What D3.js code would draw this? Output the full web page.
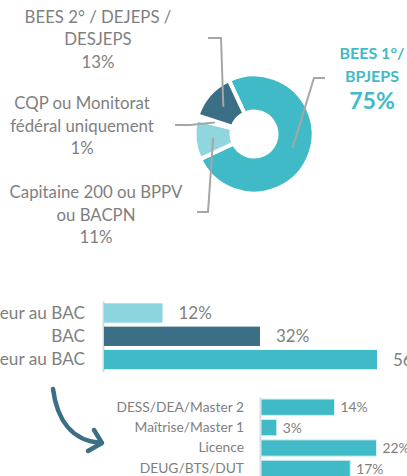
<!DOCTYPE html>
<html>
<head>
<meta charset="utf-8">
<script src="https://cdn.jsdelivr.net/npm/d3@7"></script>
<style>
    body { margin: 0; background: #fff; overflow: hidden; }
    svg { display: block; font-family: Lato, "Open Sans", sans-serif; }
    .lbl { fill: #7f7f7f; }
    .leader { fill: none; stroke: #a6a6a6; stroke-width: 2; }
</style>
</head>
<body>
<svg id="chart"></svg>
<script>
// Diplômes d'encadrement (donut)
const pieLines = [
    ['BEES 1°/', 'BPJEPS'],
    ['Capitaine 200 ou BPPV', 'ou BACPN'],
    ['CQP ou Monitorat', 'fédéral uniquement'],
    ['BEES 2° / DEJEPS /', 'DESJEPS']
];
const pieValues = [75, 11, 1, 13];
const pieColors = ['#41bac8', '#8fd6df', '#8c9ca6', '#3a6f85'];

// Niveau scolaire
const levelCats = ['Inférieur au BAC', 'BAC', 'Supérieur au BAC'];
const levelValues = [12, 32, 56];
const levelColors = ['#8dd5de', '#3a6f85', '#41bac8'];

// Détail supérieur au BAC
const diplomaCats = ['DESS/DEA/Master 2', 'Maîtrise/Master 1', 'Licence', 'DEUG/BTS/DUT'];
const diplomaValues = [14, 3, 22, 17];

const width = 407, height = 476;

const svg = d3.select('#chart')
    .attr('width', width)
    .attr('height', height);

// ---- donut ----
const cx = 254, cy = 134;
const start = -25 * Math.PI / 180;

const pie = d3.pie()
    .sort(null)
    .startAngle(start)
    .endAngle(start + 2 * Math.PI);

const arc = d3.arc().innerRadius(22.5).outerRadius(59.5);
const leaderArc = d3.arc().innerRadius(41).outerRadius(41);

const arcs = pie(pieValues);

const donut = svg.append('g')
    .attr('transform', `translate(${cx},${cy})`);

donut.selectAll('path')
    .data(arcs)
    .join('path')
    .attr('d', arc)
    .attr('fill', (d, i) => pieColors[i])
    .attr('stroke', '#fff')
    .attr('stroke-width', 4)
    .attr('stroke-linejoin', 'miter');

// label layout: text centre x, first baseline, elbow, tail
const labelPos = [
    { x: 372, y: 59, elbow: [314, 78], tail: 325, bold: true },
    { x: 96, y: 198, elbow: [208, 212], tail: 197 },
    { x: 82, y: 109, elbow: [190, 125], tail: 175 },
    { x: 98, y: 22.5, elbow: [221, 38], tail: 208 }
];

arcs.forEach((d, i) => {
    const p = labelPos[i];
    const c = leaderArc.centroid(d);
    const inner = [cx + c[0], cy + c[1]];
    svg.append('polyline')
        .attr('class', 'leader')
        .attr('points', [inner, p.elbow, [p.tail, p.elbow[1]]].map(q => q.join(',')).join(' '));

    const t = svg.append('text')
        .attr('text-anchor', 'middle')
        .attr('class', p.bold ? '' : 'lbl')
        .attr('fill', p.bold ? pieColors[0] : null)
        .attr('font-weight', p.bold ? 700 : 400);

    pieLines[i].forEach((line, j) => {
        t.append('tspan')
            .attr('x', p.x)
            .attr('y', p.y + j * 22.5)
            .attr('font-size', p.bold ? 16 : 16.8)
            .text(line);
    });
    t.append('tspan')
        .attr('x', p.x)
        .attr('y', p.y + pieLines[i].length * 22.5 + (p.bold ? 5 : 0))
        .attr('font-size', p.bold ? 23 : 16.8)
        .text(pieValues[i] + '%');
});

// ---- niveau scolaire bars ----
const x1 = d3.scaleLinear().domain([0, 60]).range([104, 104 + 292.5]);
const y1 = d3.scaleBand()
    .domain(levelCats)
    .range([301, 371.6])
    .paddingInner(0.17)
    .paddingOuter(0.1);

const ax1 = svg.append('g')
    .attr('transform', 'translate(103,0)')
    .call(d3.axisLeft(y1).tickSize(0).tickPadding(18));
ax1.select('.domain').attr('stroke', '#d9d9d9').attr('stroke-width', 2);
ax1.selectAll('text')
    .attr('fill', '#7f7f7f')
    .attr('font-size', 17.2)
    .attr('font-family', 'Lato');

svg.append('g')
    .selectAll('rect')
    .data(levelValues)
    .join('rect')
    .attr('x', x1(0))
    .attr('y', (d, i) => y1(levelCats[i]))
    .attr('width', d => x1(d) - x1(0))
    .attr('height', y1.bandwidth())
    .attr('fill', (d, i) => levelColors[i]);

svg.append('g')
    .selectAll('text')
    .data(levelValues)
    .join('text')
    .attr('class', 'lbl')
    .attr('x', d => x1(d) + 16)
    .attr('y', (d, i) => y1(levelCats[i]) + y1.bandwidth() / 2)
    .attr('dy', '0.35em')
    .attr('font-size', 17)
    .text(d => d + '%');

// ---- arrow ----
svg.append('path')
    .attr('d', 'M53,389 C57,420 72,441 101,443')
    .attr('fill', 'none')
    .attr('stroke', '#3a6f85')
    .attr('stroke-width', 4.5)
    .attr('stroke-linecap', 'round');
svg.append('polyline')
    .attr('points', '94,430 102,443 88,451')
    .attr('fill', 'none')
    .attr('stroke', '#3a6f85')
    .attr('stroke-width', 4.5)
    .attr('stroke-linecap', 'round')
    .attr('stroke-linejoin', 'round');

// ---- diplômes bars ----
const x2 = d3.scaleLinear().domain([0, 25]).range([261, 261 + 131.25]);
const y2 = d3.scaleBand()
    .domain(diplomaCats)
    .range([397, 478.6])
    .paddingInner(0.2)
    .paddingOuter(0.1);

const ax2 = svg.append('g')
    .attr('transform', 'translate(260,0)')
    .call(d3.axisLeft(y2).tickSize(0).tickPadding(16));
ax2.select('.domain').attr('stroke', '#d9d9d9').attr('stroke-width', 2);
ax2.selectAll('text')
    .attr('fill', '#7f7f7f')
    .attr('font-size', 13.8)
    .attr('font-family', 'Lato');

svg.append('g')
    .selectAll('rect')
    .data(diplomaValues)
    .join('rect')
    .attr('x', x2(0))
    .attr('y', (d, i) => y2(diplomaCats[i]))
    .attr('width', d => x2(d) - x2(0))
    .attr('height', y2.bandwidth())
    .attr('fill', '#41bac8')
    .attr('stroke', '#d5eff2')
    .attr('stroke-width', 1);

svg.append('g')
    .selectAll('text')
    .data(diplomaValues)
    .join('text')
    .attr('class', 'lbl')
    .attr('x', d => x2(d) + 6)
    .attr('y', (d, i) => y2(diplomaCats[i]) + y2.bandwidth() / 2)
    .attr('dy', '0.38em')
    .attr('font-size', 13.8)
    .text(d => d + '%');
</script>
</body>
</html>
